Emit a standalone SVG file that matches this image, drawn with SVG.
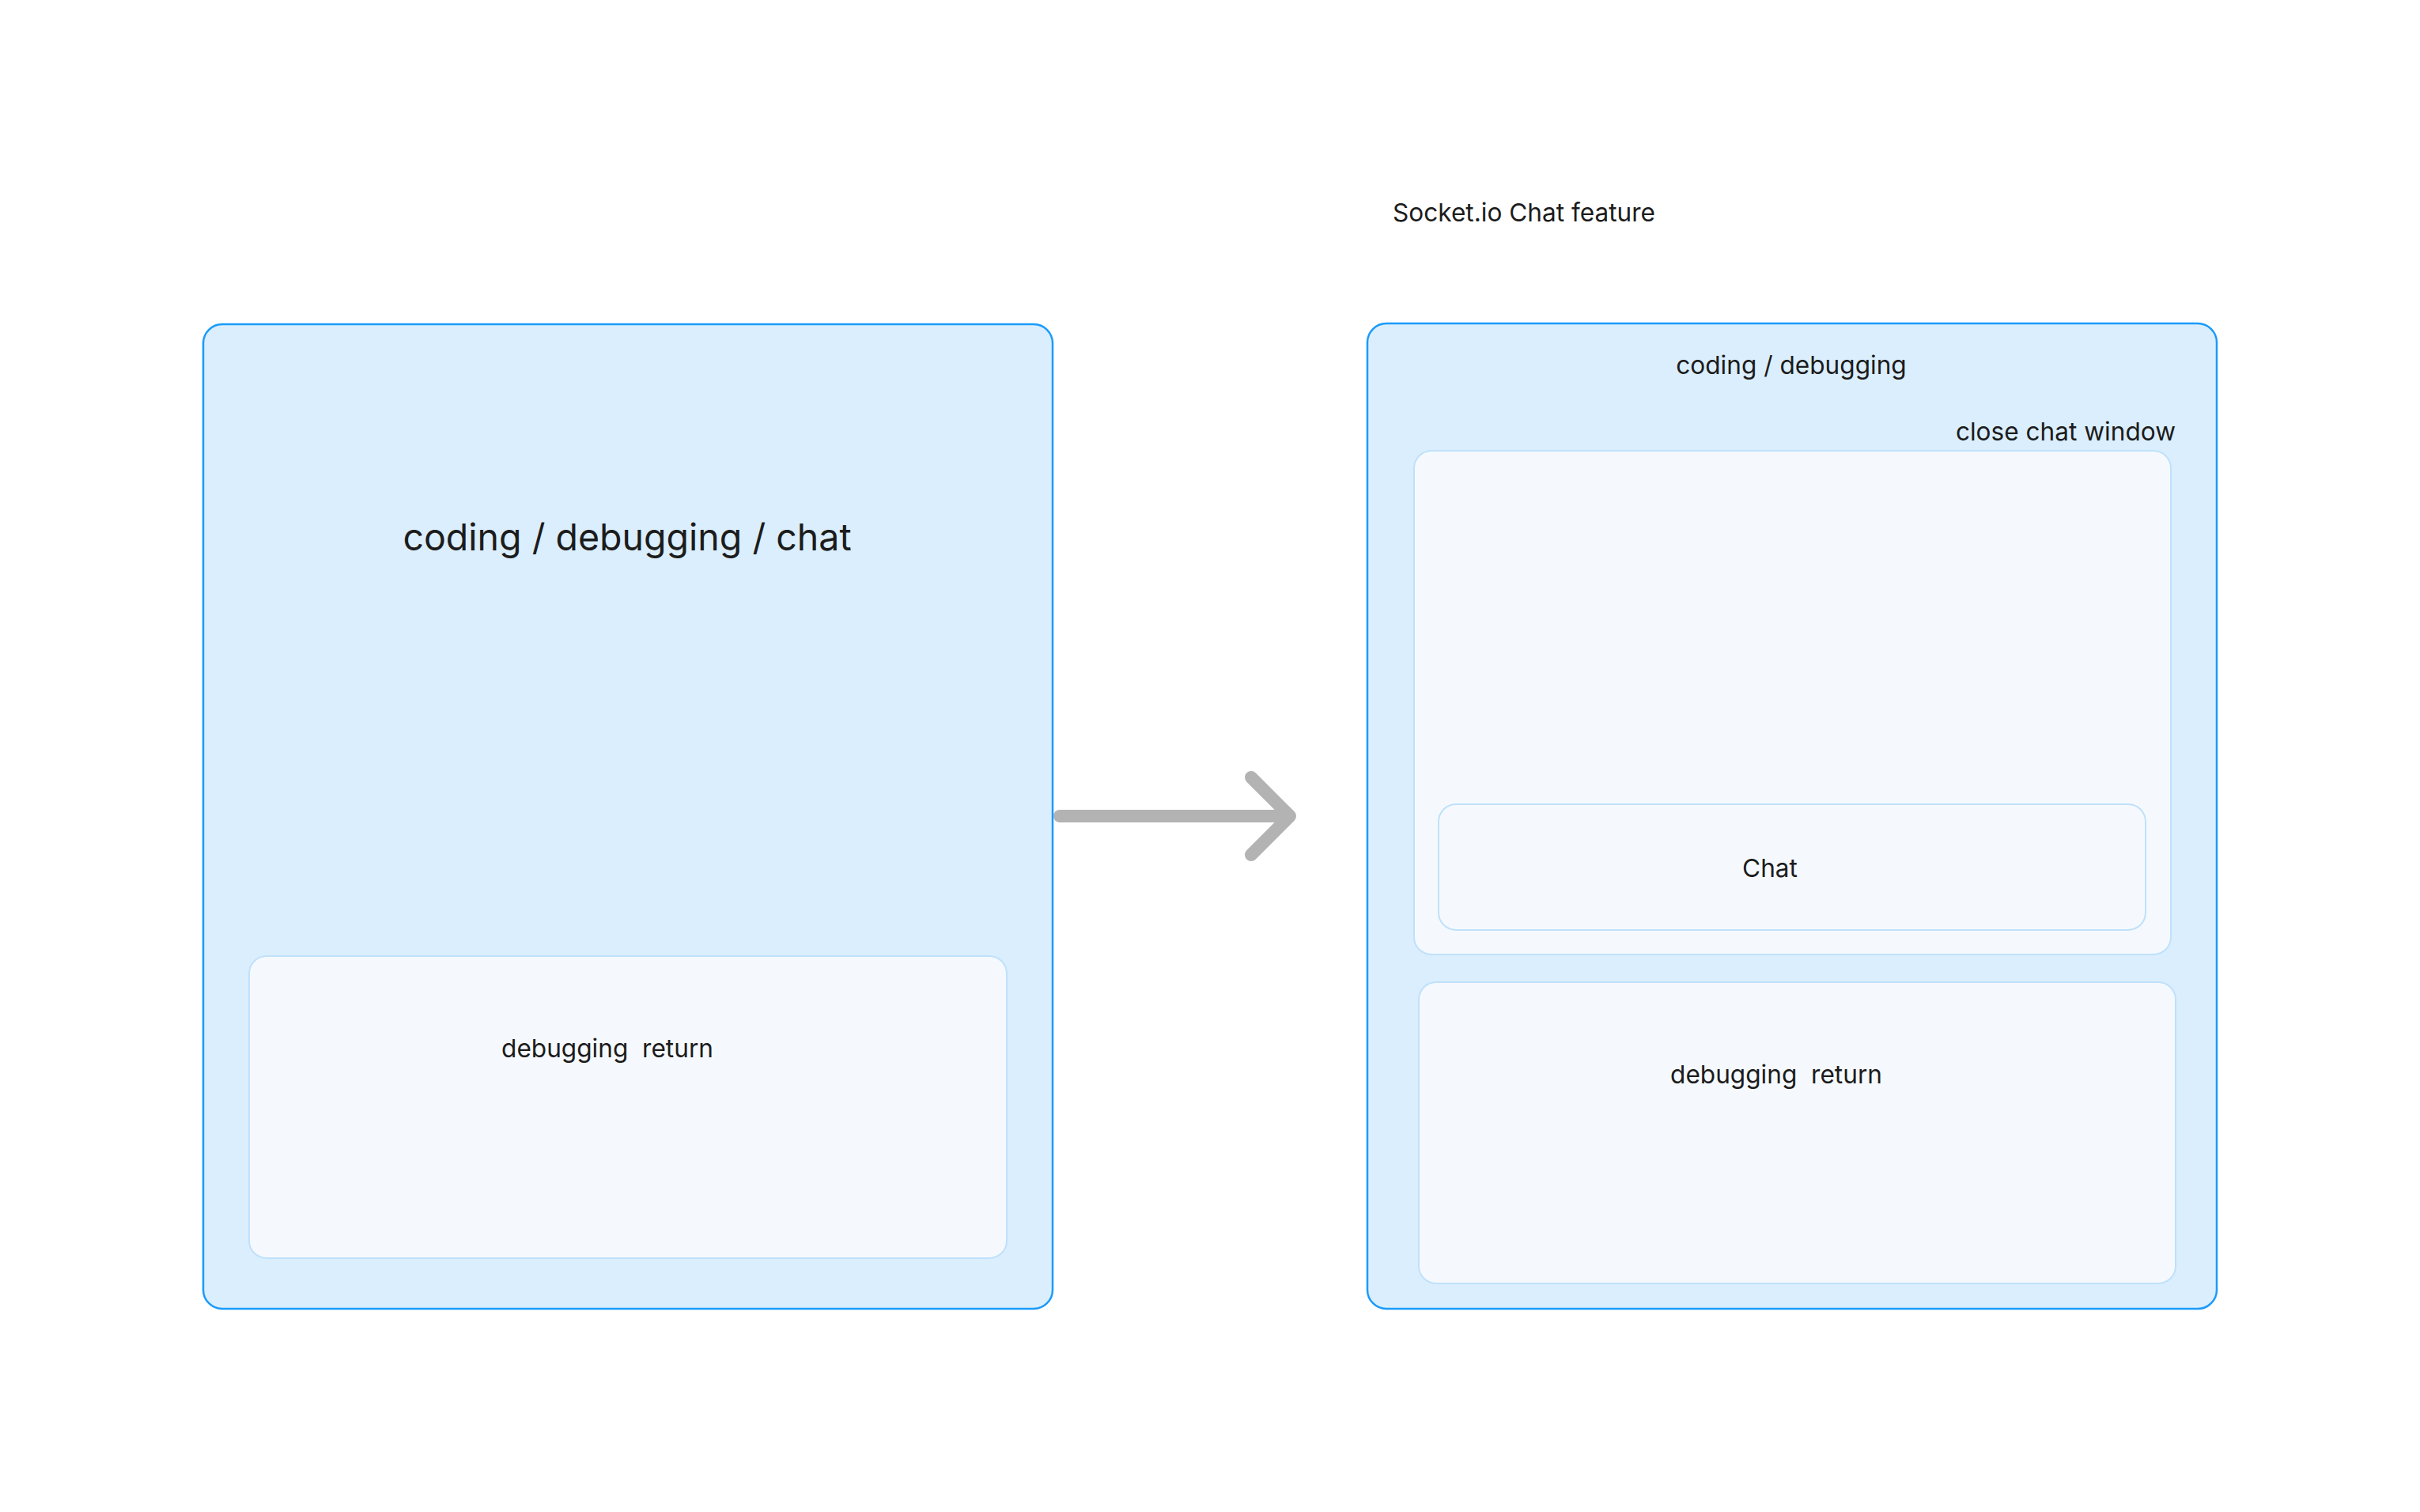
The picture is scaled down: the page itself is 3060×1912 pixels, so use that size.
<svg xmlns="http://www.w3.org/2000/svg" width="3060" height="1912" viewBox="0 0 3060 1912">
<style>
.outer{fill:#dbeefd;stroke:#1a9bfb;stroke-width:2.5}
.inner{fill:#f5f9fe;stroke:#bfe1fb;stroke-width:2}
text{font-family:Inter,"Liberation Sans",sans-serif;fill:#1c1c1c;white-space:pre}
.s{font-size:31.6px}
.l{font-size:46.5px}
.conn{fill:none;stroke:#b3b3b3;stroke-width:16;stroke-linecap:round;stroke-linejoin:round}
</style>
<rect width="3060" height="1912" fill="#ffffff"/>
<g id="title"><text class="s" x="1761" y="280">Socket.io Chat feature</text></g>
<g id="left-screen">
<rect class="outer" x="257" y="410" width="1074" height="1245" rx="24"/>
<text class="l" x="793" y="696" text-anchor="middle">coding / debugging / chat</text>
</g>
<g id="left-debug">
<rect class="inner" x="315" y="1209" width="958" height="382" rx="22"/>
<text class="s" x="768" y="1337" text-anchor="middle">debugging  return</text>
</g>
<g id="right-screen">
<rect class="outer" x="1729" y="409" width="1074" height="1246" rx="24"/>
<text class="s" x="2265" y="473" text-anchor="middle">coding / debugging</text>
<text class="s" x="2751" y="557" text-anchor="end">close chat window</text>
</g>
<g id="chat-panel">
<rect class="inner" x="1788" y="570" width="957" height="637" rx="22"/>
</g>
<g id="chat">
<rect class="inner" x="1819" y="1017" width="894" height="159" rx="22"/>
<text class="s" x="2238" y="1109" text-anchor="middle">Chat</text>
</g>
<g id="right-debug">
<rect class="inner" x="1794" y="1242" width="957" height="381" rx="22"/>
<text class="s" x="2246" y="1370" text-anchor="middle">debugging  return</text>
</g>
<g id="connectors">
<line class="conn" x1="1340" y1="1032" x2="1630" y2="1032"/>
<polyline class="conn" points="1582,983 1631,1032 1582,1081"/>
</g>
</svg>
